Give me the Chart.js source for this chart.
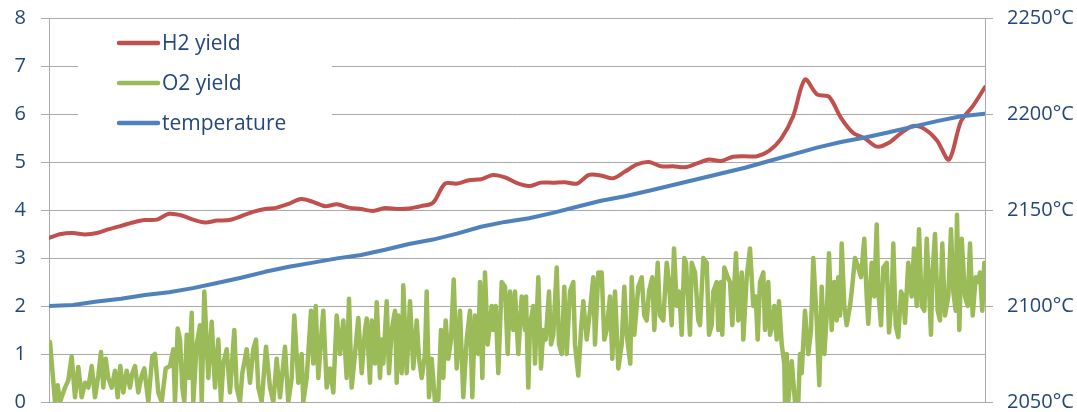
<!DOCTYPE html>
<html lang="en">
<head>
    <meta charset="UTF-8">
    <title>H2 / O2 yield vs temperature</title>
    <style>
        body {
            margin: 0;
            background: #ffffff;
        }

        .chart-container {
            width: 1077px;
            height: 412px;
        }
    </style>
    <script src="https://cdn.jsdelivr.net/npm/chart.js"></script>
</head>
<body>
    <div class="chart-container">
        <canvas id="yieldChart" width="1077" height="412"></canvas>
    </div>

    <script>
        // run length in seconds
        const RUN_END = 936;

        // O2 yield readings: [elapsed s, yield]
        const o2Readings = [
            [1.0, 1.25], [6.0, 0.0], [8.7, 0.35], [11.0, 0.0], [16.0, 0.3], [19.3, 0.45], [22.7, 0.95], [26.0, 0.1],
            [29.3, 0.73], [32.7, 0.1], [36.0, 0.4], [39.3, 0.3], [42.7, 0.75], [46.0, 0.1], [49.3, 0.55], [52.0, 1.04],
            [54.3, 0.3], [56.7, 0.9], [59.3, 0.5], [62.7, 0.3], [66.0, 0.65], [68.7, 0.1], [71.3, 0.75], [74.3, 0.2],
            [77.7, 0.65], [81.0, 0.3], [83.3, 0.6], [86.0, 0.75], [89.3, 0.2], [92.7, 0.55], [95.3, 0.7], [99.3, 0.0],
            [103.3, 0.95], [106.0, 1.0], [109.3, 0.2], [112.7, 0.0], [116.7, 0.7], [121.0, 0.75], [124.3, 1.1], [126.0, 0.0],
            [128.7, 1.53], [131.0, 1.3], [133.3, 0.3], [135.3, 0.0], [137.7, 1.4], [140.0, 0.5], [142.7, 1.86], [144.3, 0.0],
            [147.7, 1.2], [151.0, 1.6], [152.7, 0.0], [155.3, 2.3],
            [159.3, 0.5], [162.7, 1.67], [166.0, 0.3], [169.3, 1.3], [172.0, 0.0], [174.3, 0.8], [177.7, 1.1], [181.0, 0.2],
            [185.3, 1.5], [187.7, 0.3], [191.0, 0.0], [193.3, 0.6], [197.7, 1.1], [201.0, 0.4], [204.3, 1.1], [207.0, 1.3],
            [209.3, 0.3], [212.7, 0.0], [217.0, 1.15], [221.0, 0.3], [224.3, 0.0], [227.7, 0.9], [231.0, 0.1], [236.0, 1.15],
            [239.3, 0.0], [242.7, 0.5], [245.3, 1.8], [249.3, 0.4], [252.7, 1.0], [254.3, 0.0], [257.7, 0.5], [262.0, 1.9],
            [264.3, 0.8], [266.7, 2.0], [269.3, 0.5], [272.7, 1.5], [274.3, 1.9], [277.7, 0.3], [281.0, 0.7], [284.3, 0.2],
            [287.7, 1.8], [291.0, 1.0], [294.3, 1.7], [297.7, 0.5], [300.0, 2.15], [302.7, 0.3], [306.0, 1.0], [309.3, 1.75],
            [312.7, 0.6], [316.0, 1.5],
            [317.7, 1.74], [321.0, 0.4], [322.7, 1.7], [326.0, 0.8], [327.7, 2.08], [331.0, 0.5], [332.7, 1.3], [334.3, 0.8],
            [337.7, 2.1], [340.0, 0.6], [342.7, 1.5], [346.0, 1.9], [347.7, 0.4], [349.3, 1.8], [352.7, 0.6], [354.3, 2.43],
            [357.7, 0.6], [361.0, 2.1], [364.3, 0.7], [367.7, 1.7], [370.0, 0.9], [372.7, 0.5], [376.0, 1.0], [377.7, 2.3],
            [380.0, 0.1], [382.7, 0.9], [386.0, 0.0], [389.3, 0.05], [392.0, 1.5], [394.3, 0.5], [396.7, 1.7], [399.3, 0.9],
            [402.0, 1.3], [404.7, 2.55], [407.7, 0.7], [411.0, 1.9], [414.3, 0.1], [417.7, 1.3], [421.0, 1.9], [423.3, 0.1],
            [426.0, 1.8], [429.3, 1.0], [431.0, 2.5], [433.3, 0.5], [436.0, 2.7], [438.7, 1.2], [442.7, 2.0], [444.3, 1.5],
            [446.7, 2.0], [449.3, 0.6], [452.7, 2.5], [456.0, 2.4], [458.7, 1.0], [461.0, 2.3], [464.3, 1.5], [466.0, 2.3],
            [469.3, 1.0], [472.7, 2.2], [476.0, 1.5],
            [477.0, 2.2], [479.3, 0.3], [481.0, 1.6], [484.3, 2.0], [486.0, 0.8], [489.3, 2.6], [492.0, 0.7], [494.3, 1.5],
            [496.7, 1.3], [500.0, 2.3], [502.0, 1.2], [504.3, 1.4], [507.7, 2.8], [510.0, 1.2], [512.7, 1.0], [515.3, 2.4],
            [517.7, 1.0], [521.0, 2.3], [524.3, 2.5], [526.0, 1.2], [529.3, 0.55], [532.0, 1.5], [534.3, 2.1], [537.7, 1.3],
            [541.0, 1.9], [544.3, 2.6], [546.0, 1.2], [549.3, 2.7], [552.7, 2.7], [555.3, 1.3], [557.7, 1.5], [561.0, 2.2],
            [563.3, 0.9], [566.0, 2.3], [569.3, 0.7], [572.7, 1.2], [575.3, 2.4], [577.7, 1.4], [581.3, 0.8], [582.7, 2.6],
            [585.3, 1.4], [589.3, 2.4], [592.7, 2.6], [595.3, 1.8], [597.7, 1.7], [600.0, 2.3], [603.3, 2.6], [605.3, 1.5],
            [608.7, 2.9], [611.0, 1.8], [614.3, 1.7], [617.7, 2.9], [620.0, 2.5], [622.7, 1.6], [625.0, 3.2], [627.7, 2.0],
            [630.3, 2.3], [632.7, 1.4], [635.3, 3.0],
            [637.0, 2.9], [641.0, 1.4], [642.7, 2.9], [646.0, 2.7], [649.3, 1.7], [651.0, 1.6], [654.3, 3.0], [657.7, 2.9],
            [660.0, 1.4], [662.7, 1.6], [664.3, 2.3], [667.7, 2.5], [669.3, 1.5], [672.0, 2.5], [673.3, 1.4], [675.3, 2.8],
            [678.7, 2.6], [681.0, 2.5], [683.3, 1.6], [687.0, 3.1], [689.3, 1.7], [692.7, 2.7], [694.3, 1.3], [697.7, 2.6],
            [701.0, 3.2], [704.3, 2.0], [706.7, 2.2], [708.7, 1.3], [711.0, 2.5], [714.3, 2.7], [716.0, 1.5], [719.3, 2.5],
            [721.0, 1.4], [723.3, 1.6], [725.3, 2.0], [727.7, 1.3], [730.0, 2.1], [732.7, 1.2], [735.3, 0.8], [736.0, 0.0],
            [737.7, 1.0], [739.3, 0.0], [742.7, 0.85], [746.0, 0.0], [749.3, 0.0], [751.0, 1.0], [752.7, 0.6], [756.0, 1.9],
            [759.3, 1.0], [762.0, 1.5], [764.3, 3.0], [767.7, 1.7], [770.3, 0.35], [772.7, 2.4], [775.3, 1.0], [777.7, 1.8],
            [780.0, 3.1], [782.7, 1.5], [785.3, 2.5], [787.7, 1.7], [789.3, 2.6], [791.0, 1.8], [792.7, 3.3], [795.3, 2.0],
            [797.7, 1.6], [801.0, 2.0], [802.7, 2.3], [806.0, 3.0], [809.3, 2.8], [812.0, 2.6], [815.3, 3.4], [817.7, 2.2],
            [819.3, 1.63], [822.7, 2.9], [825.3, 2.2], [827.7, 3.7], [829.3, 2.3], [832.0, 1.6], [834.3, 2.8], [837.7, 2.9],
            [840.0, 1.45], [842.7, 2.2], [844.3, 3.3], [846.7, 1.6], [849.3, 1.35], [852.0, 2.3], [854.3, 2.2], [856.0, 1.65],
            [859.3, 2.9], [862.7, 2.2], [865.0, 3.2], [867.7, 2.0], [870.0, 3.6], [872.7, 2.0], [875.3, 1.9], [877.7, 3.4],
            [880.0, 2.4], [882.0, 1.4], [883.3, 2.6], [886.0, 3.5], [888.7, 1.9], [891.0, 1.7], [893.3, 3.3], [896.0, 1.8],
            [899.3, 2.2], [902.0, 3.6], [904.3, 2.3], [906.7, 1.9], [908.0, 3.9], [910.3, 1.5], [912.7, 3.4], [916.0, 2.2],
            [918.7, 2.0], [921.0, 3.3], [923.7, 1.8], [926.7, 2.6], [929.3, 2.5], [931.0, 2.7], [933.3, 1.9], [935.3, 2.9]
        ];

        // H2 yield, one reading every 12 s
        const H2_STEP = 12;
        const h2Yield = [
            3.42, 3.5, 3.52, 3.49, 3.52, 3.6, 3.67, 3.74, 3.79, 3.8,
            3.92, 3.89, 3.8, 3.74, 3.78, 3.79, 3.87, 3.96, 4.02, 4.05,
            4.13, 4.23, 4.17, 4.08, 4.12, 4.05, 4.02, 3.98, 4.04, 4.02,
            4.03, 4.08, 4.15, 4.55, 4.55, 4.62, 4.64, 4.73, 4.68, 4.56,
            4.5, 4.57, 4.57, 4.58, 4.55, 4.73, 4.72, 4.66, 4.8, 4.95,
            5.0, 4.91, 4.91, 4.89, 4.97, 5.05, 5.02, 5.11, 5.12, 5.12,
            5.23, 5.48, 5.95, 6.72, 6.41, 6.36, 5.92, 5.61, 5.49, 5.32,
            5.4, 5.6, 5.75, 5.68, 5.45, 5.05, 5.85, 6.17, 6.56
        ];

        // temperature in °C, one reading every 24 s
        const TEMP_STEP = 24;
        const temperature = [
            2100, 2100.5, 2102.3, 2103.8, 2105.7, 2107.2, 2109.3, 2112.0, 2114.7, 2117.8,
            2120.4, 2122.6, 2124.8, 2126.6, 2129.3, 2132.3, 2134.6, 2137.7, 2141.3, 2143.8,
            2145.7, 2148.5, 2151.7, 2154.8, 2157.2, 2160.0, 2163.0, 2166.0, 2169.0, 2172.0,
            2175.5, 2179.0, 2182.5, 2185.4, 2187.8, 2190.5, 2193.4, 2196.3, 2198.8, 2200.2
        ];

        const textColor = '#23477a';
        const gridColor = '#a9a9a9';

        const everyStep = (values, step) => values.map((v, i) => ({ x: i * step, y: v }));

        // keep tick padding from shrinking the plot area
        const fitAxis = width => scale => {
            scale.width = width;
            scale.paddingTop = 0;
            scale.paddingBottom = 0;
        };

        // legend drawn inside the plot on a white box
        const legendBox = {
            id: 'legendBox',
            afterDraw(chart) {
                const ctx = chart.ctx;
                ctx.save();
                ctx.fillStyle = '#ffffff';
                ctx.fillRect(78, 24, 254, 118);
                const rows = [43, 83, 123];
                ctx.font = '21px "Open Sans"';
                ctx.textBaseline = 'middle';
                ctx.lineCap = 'round';
                chart.data.datasets.forEach((ds, i) => {
                    ctx.strokeStyle = ds.borderColor;
                    ctx.lineWidth = 4.5;
                    ctx.beginPath();
                    ctx.moveTo(119, rows[i]);
                    ctx.lineTo(158, rows[i]);
                    ctx.stroke();
                    ctx.fillStyle = textColor;
                    ctx.fillText(ds.label, 162, rows[i] + 1);
                });
                ctx.restore();
            }
        };

        new Chart(document.getElementById('yieldChart').getContext('2d'), {
            type: 'line',
            data: {
                datasets: [{
                    label: 'H2 yield',
                    data: everyStep(h2Yield, H2_STEP),
                    borderColor: '#c0504d',
                    borderWidth: 4,
                    tension: 0.3,
                    yAxisID: 'y',
                    order: 1
                }, {
                    label: 'O2 yield',
                    data: o2Readings.map(([t, v]) => ({ x: t, y: v })),
                    borderColor: '#9bbb59',
                    borderWidth: 4.5,
                    tension: 0,
                    yAxisID: 'y',
                    order: 2
                }, {
                    label: 'temperature',
                    data: everyStep(temperature, TEMP_STEP),
                    borderColor: '#4f81bd',
                    borderWidth: 4,
                    tension: 0,
                    yAxisID: 'y2',
                    order: 0
                }]
            },
            options: {
                responsive: false,
                animation: false,
                layout: {
                    padding: { top: 18, bottom: 10, left: 0, right: 0 }
                },
                elements: {
                    point: { radius: 0 },
                    line: { borderJoinStyle: 'round', borderCapStyle: 'round' }
                },
                plugins: {
                    legend: { display: false },
                    tooltip: { enabled: false }
                },
                scales: {
                    x: {
                        type: 'linear',
                        min: 0,
                        max: RUN_END,
                        display: false
                    },
                    y: {
                        position: 'left',
                        min: 0,
                        max: 8,
                        afterFit: fitAxis(49),
                        ticks: {
                            stepSize: 1,
                            padding: 15,
                            color: textColor,
                            font: { family: 'Open Sans', size: 20 }
                        },
                        grid: {
                            color: gridColor,
                            tickLength: 8
                        },
                        border: { display: true, color: gridColor }
                    },
                    y2: {
                        position: 'right',
                        min: 2050,
                        max: 2250,
                        afterFit: fitAxis(92),
                        ticks: {
                            stepSize: 50,
                            padding: 14,
                            color: textColor,
                            font: { family: 'Open Sans', size: 20 },
                            callback: value => value + '°C'
                        },
                        grid: {
                            drawOnChartArea: false,
                            color: gridColor,
                            tickLength: 8
                        },
                        border: { display: true, color: gridColor }
                    }
                }
            },
            plugins: [legendBox]
        });
    </script>
</body>
</html>
